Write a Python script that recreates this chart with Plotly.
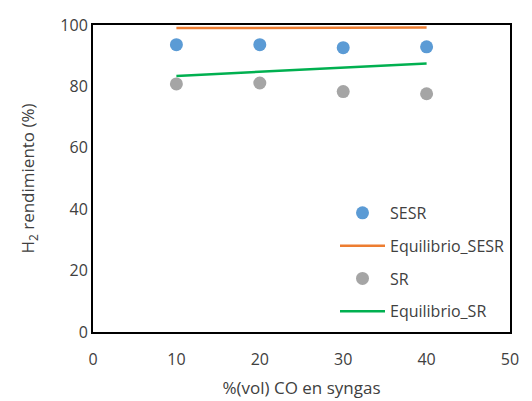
import plotly.graph_objects as go

co_pct = [10, 20, 30, 40]
sesr = [93.6, 93.6, 92.6, 92.9]
eq_sesr = [99.0, 99.1, 99.2, 99.2]
sr = [80.8, 81.1, 78.3, 77.6]
eq_sr = [83.4, 84.8, 86.0, 87.5]

font = "Open Sans"
fig = go.Figure()
fig.add_trace(go.Scatter(x=co_pct, y=sesr, mode="markers", name="SESR", legendgroup="a",
                         marker=dict(color="#5B9BD5", size=13)))
fig.add_trace(go.Scatter(x=co_pct, y=eq_sesr, mode="lines", name="Equilibrio_SESR", legendgroup="b",
                         line=dict(color="#ED7D31", width=2.5)))
fig.add_trace(go.Scatter(x=co_pct, y=sr, mode="markers", name="SR", legendgroup="c",
                         marker=dict(color="#A5A5A5", size=13)))
fig.add_trace(go.Scatter(x=co_pct, y=eq_sr, mode="lines", name="Equilibrio_SR", legendgroup="d",
                         line=dict(color="#00B050", width=2.5)))

fig.update_layout(
    width=532, height=401,
    margin=dict(l=85, r=30, t=17, b=77),
    paper_bgcolor="white", plot_bgcolor="white",
    font=dict(family=font, size=15, color="#404040"),
    showlegend=True,
    legend=dict(x=1.0, y=0.01, xanchor="right", yanchor="bottom",
                bgcolor="rgba(0,0,0,0)", font=dict(size=16, color="#404040"),
                tracegroupgap=9, itemwidth=45),
    xaxis=dict(range=[0, 50], dtick=10, showgrid=False, zeroline=False,
               showline=True, linecolor="black", linewidth=2, mirror=True,
               ticks="", automargin=False, tickfont=dict(size=16),
               ticklabelstandoff=12,
               title=dict(text="%(vol) CO en syngas", font=dict(size=17), standoff=13)),
    yaxis=dict(range=[0, 100], dtick=20, showgrid=False, zeroline=False,
               showline=True, linecolor="black", linewidth=2, mirror=True,
               ticks="", automargin=False, tickfont=dict(size=16),
               title=dict(text="H<sub>2</sub> rendimiento (%)", font=dict(size=17), standoff=21)),
)
fig.write_html("out.html")
